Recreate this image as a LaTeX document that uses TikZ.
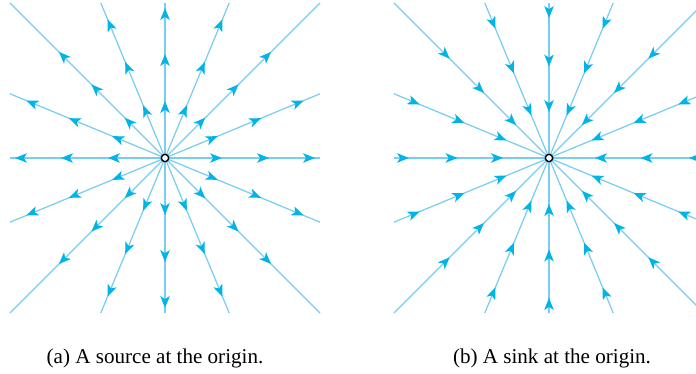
\documentclass[tikz,border=0pt]{standalone}
\usepackage{fontspec}
\setmainfont{Liberation Serif}
\usepackage{tikz}
\usepackage{xcolor}
\usetikzlibrary{calc, arrows.meta, decorations.markings, positioning}
\definecolor{rayblue}{RGB}{120,205,240}
\definecolor{tipblue}{RGB}{0,180,232}

\begin{document}
\begin{tikzpicture}[>=Stealth, scale=1.0,
  ray/.style={rayblue, line width=0.7pt},
  outflow/.style={ray, postaction={decorate}, decoration={markings,
    mark=at position 1.14cm with {\arrow[tipblue]{Stealth[length=6.8pt,width=5.4pt,inset=1.8pt]}},
    mark=at position 2.08cm with {\arrow[tipblue]{Stealth[length=6.8pt,width=5.4pt,inset=1.8pt]}},
    mark=at position 3.0cm with {\arrow[tipblue]{Stealth[length=6.8pt,width=5.4pt,inset=1.8pt]}}}},
  inflow/.style={ray, postaction={decorate}, decoration={markings,
    mark=at position -0.92cm with {\arrow[tipblue]{Stealth[length=6.8pt,width=5.4pt,inset=1.8pt]}},
    mark=at position -1.83cm with {\arrow[tipblue]{Stealth[length=6.8pt,width=5.4pt,inset=1.8pt]}},
    mark=at position -2.8cm with {\arrow[tipblue]{Stealth[length=6.8pt,width=5.4pt,inset=1.8pt]}}}},
  origin/.style={circle, draw=black, fill=white, line width=0.8pt, inner sep=0pt, minimum size=4.2pt},
  caption/.style={anchor=base, font=\fontsize{12}{14}\selectfont}]
  \clip (-3.3,-4.32) rectangle (10.62,3.16);
  \coordinate (src) at (0,0);
  \coordinate (snk) at (7.68,0);
  % source: rays leave the origin
  \foreach \a in {0,22.5,...,337.5}{
    \pgfmathsetmacro{\r}{3.1/max(abs(cos(\a)),abs(sin(\a)))}
    \coordinate (srcend) at ($(src)+(\a:\r)$);
    \draw[outflow] (src) -- (srcend);
  }
  \node[origin] (srcdot) at (src) {};
  % sink: rays run into the origin
  \foreach \a in {0,22.5,...,337.5}{
    \pgfmathsetmacro{\r}{3.1/max(abs(cos(\a)),abs(sin(\a)))}
    \coordinate (snkend) at ($(snk)+(\a:\r)$);
    \draw[inflow] (snkend) -- (snk);
  }
  \node[origin] (snkdot) at (snk) {};
  % captions
  \node[caption] (capa) at (-0.2,-4.1) {(a) A source at the origin.};
  \node[caption] (capb) at (7.74,-4.1) {(b) A sink at the origin.};
\end{tikzpicture}
\end{document}
